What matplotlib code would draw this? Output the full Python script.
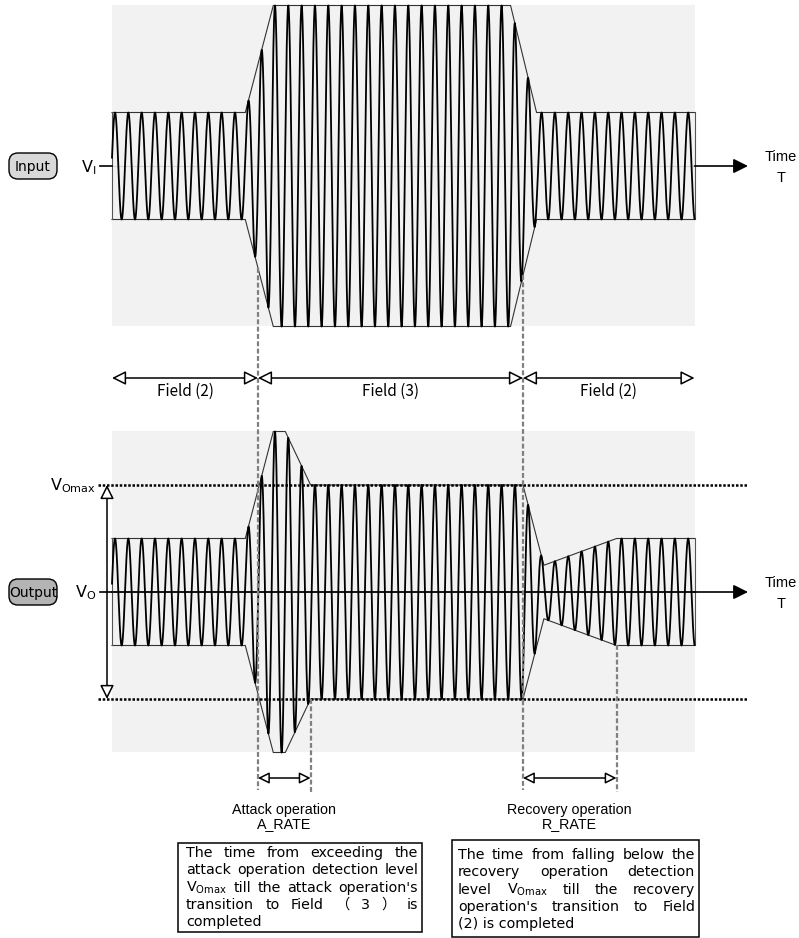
import numpy as np
import matplotlib
matplotlib.use('Agg')
import matplotlib.pyplot as plt
from matplotlib.patches import Rectangle, FancyBboxPatch

# signal description: time in cycles of the carrier, amplitude relative to V_Omax
in_env_t = [0.0, 10.0, 12.1, 29.9, 31.85, 43.7]
in_env_a = [0.5, 0.5, 1.5, 1.5, 0.5, 0.5]
out_env_t = [0.0, 10.0, 12.1, 13.0, 14.9, 30.83, 32.4, 37.85, 43.7]
out_env_a = [0.5, 0.5, 1.5, 1.5, 1.0, 1.0, 0.25, 0.5, 0.5]
first_peak = 0.225
v_omax = 1.0
attack_t = [10.95, 14.9]
recovery_t = [30.83, 37.85]
field_bounds = [0.0, 10.95, 30.83, 43.7]
field_labels = ['Field (2)', 'Field (3)', 'Field (2)']

attack_box = [['The', 'time', 'from', 'exceeding', 'the'],
              ['attack', 'operation', 'detection', 'level'],
              [r'V$_{\mathregular{Omax}}$', 'till', 'the', 'attack', "operation's"],
              ['transition', 'to', 'Field', '（', '3', '）', 'is'],
              ['completed']]
recovery_box = [['The', 'time', 'from', 'falling', 'below', 'the'],
                ['recovery', 'operation', 'detection'],
                ['level', r'V$_{\mathregular{Omax}}$', 'till', 'the', 'recovery'],
                ["operation's", 'transition', 'to', 'Field'],
                ['(2) is completed']]

# layout (pixels)
X0, PX, AMP = 112, 13.33, 107
IN_Y, OUT_Y = 166, 592
T_END = field_bounds[-1]
BOX_FONT = ['DejaVu Sans', 'Noto Sans CJK JP']


def X(t):
    return X0 + PX * np.asarray(t)


def Y(c, a):
    return c - AMP * np.asarray(a)


fig = plt.figure(figsize=(7.99, 9.38), dpi=100)
ax = fig.add_axes([0, 0, 1, 1])
ax.set_xlim(0, 799)
ax.set_ylim(938, 0)
ax.axis('off')


def draw_panel(c, env_t, env_a, center_color, center_lw):
    ax.add_patch(Rectangle((X(0), Y(c, 1.5)), X(T_END) - X(0), 3 * AMP,
                           fc='#f2f2f2', ec='none', zorder=0))
    ax.plot([X(0), X(T_END)], [c, c], color=center_color, lw=center_lw, zorder=1)
    t = np.linspace(0, T_END, 12000)
    a = np.interp(t, env_t, env_a)
    ax.plot(X(t), Y(c, a * np.cos(2 * np.pi * (t - first_peak))), color='k', lw=1.3, zorder=3)
    ax.plot(X(env_t), Y(c, env_a), color='#333333', lw=0.8, zorder=2)
    ax.plot(X(env_t), Y(c, -np.asarray(env_a)), color='#333333', lw=0.8, zorder=2)
    for i in (0, -1):
        ax.plot([X(env_t[i])] * 2, [Y(c, env_a[i]), Y(c, -env_a[i])], color='#555555', lw=0.8, zorder=2)
    # time axis
    ax.plot([100, X(0)], [c, c], color='k', lw=1.2)
    ax.annotate('', xy=(748, c), xytext=(X(T_END), c),
                arrowprops=dict(arrowstyle='-|>,head_length=0.4,head_width=0.2', mutation_scale=22,
                                fc='k', ec='k', lw=1.2, shrinkA=0, shrinkB=0))
    ax.text(781, c - 5, 'Time', ha='center', va='baseline', family='Liberation Sans', size=10.5)
    ax.text(781, c + 16, 'T', ha='center', va='baseline', family='Liberation Sans', size=10.5)


def open_arrow(x0, y0, x1, y1, ms):
    ax.annotate('', xy=(x1, y1), xytext=(x0, y0),
                arrowprops=dict(arrowstyle='<|-|>,head_length=0.4,head_width=0.2', mutation_scale=ms,
                                fc='white', ec='k', lw=1.1, shrinkA=0, shrinkB=0), zorder=5)


draw_panel(IN_Y, in_env_t, in_env_a, '#d4d4d4', 0.8)
draw_panel(OUT_Y, out_env_t, out_env_a, 'k', 1.3)

# labels at left
for c, name, fc in [(IN_Y, 'Input', '#d9d9d9'), (OUT_Y, 'Output', '#b4b4b4')]:
    ax.add_patch(FancyBboxPatch((12, c - 10), 42, 20, boxstyle='round,pad=3,rounding_size=9',
                                fc=fc, ec='k', lw=1.0))
    ax.text(33, c + 5, name, ha='center', va='baseline', size=10, family='DejaVu Sans')
ax.text(96, IN_Y + 6, r'V$_{\mathregular{I}}$', ha='right', va='baseline', size=11.5)
ax.text(96, OUT_Y + 5, r'V$_{\mathregular{O}}$', ha='right', va='baseline', size=11.5)
ax.text(96, Y(OUT_Y, v_omax) + 5, r'V$_{\mathregular{Omax}}$', ha='right', va='baseline', size=11.5)

# V_Omax detection levels
for s in (1, -1):
    ax.plot([98, 748], [Y(OUT_Y, s * v_omax)] * 2, color='k', lw=1.8, dashes=(1, 0.7), zorder=4)
open_arrow(107, Y(OUT_Y, v_omax), 107, Y(OUT_Y, -v_omax), 21)

# field arrows
for i, lab in enumerate(field_labels):
    xa, xb = X(field_bounds[i]), X(field_bounds[i + 1])
    open_arrow(xa, 378, xb, 378, 21)
    ax.text((xa + xb) / 2, 396, lab, ha='center', va='baseline', family='Noto Sans CJK JP', size=11)

# dashed markers
for tt in (attack_t[0], recovery_t[0]):
    ax.plot([X(tt)] * 2, [Y(IN_Y, -np.interp(tt, in_env_t, in_env_a)), 790],
            color='#808080', lw=1.6, dashes=(2.2, 1.1), zorder=6)
for tt in (attack_t[1], recovery_t[1]):
    ax.plot([X(tt)] * 2, [Y(OUT_Y, -np.interp(tt, out_env_t, out_env_a)), 792],
            color='#808080', lw=1.6, dashes=(2.2, 1.1), zorder=6)

for tt, l1, l2 in [(attack_t, 'Attack operation', 'A_RATE'), (recovery_t, 'Recovery operation', 'R_RATE')]:
    open_arrow(X(tt[0]), 778, X(tt[1]), 778, 17)
    xm = (X(tt[0]) + X(tt[1])) / 2
    ax.text(xm, 814, l1, ha='center', va='baseline', family='Liberation Sans', size=10.3)
    ax.text(xm, 828, l2, ha='center', va='baseline', family='Liberation Sans', size=10.3)

# explanation boxes with justified text
renderer = fig.canvas.get_renderer()


def justify_box(lines, x0, x1, y0, dy, size):
    for k, words in enumerate(lines):
        y = y0 + k * dy
        txts = [ax.text(x0, y, w, ha='left', va='baseline', family=BOX_FONT, size=size) for w in words]
        if k == len(lines) - 1 or len(txts) == 1:
            continue
        widths = [t.get_window_extent(renderer).width for t in txts]
        gap = (x1 - x0 - sum(widths)) / (len(txts) - 1)
        x = x0
        for t, w in zip(txts, widths):
            t.set_x(x)
            x += w + gap


ax.add_patch(Rectangle((178, 843), 244, 89, fc='white', ec='k', lw=1.1))
justify_box(attack_box, 186, 418, 857, 17.3, 10.3)
ax.add_patch(Rectangle((452, 840), 247, 97, fc='white', ec='k', lw=1.1))
justify_box(recovery_box, 458, 695, 859, 17.3, 10.3)

fig.savefig('out.png', dpi=100)
